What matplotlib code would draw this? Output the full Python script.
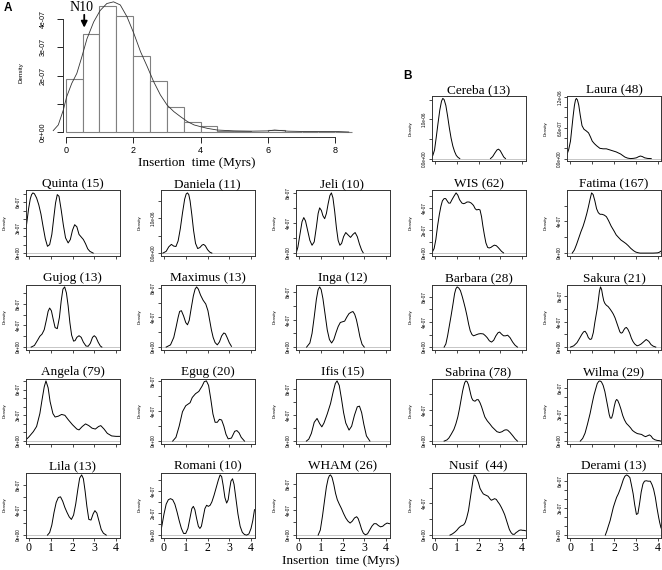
import numpy as np
import matplotlib.pyplot as plt

plt.rcParams['font.family'] = 'Liberation Sans'
SERIF = 'Liberation Serif'

# ---------------- panel A histogram (values in units of 1e-07) ----------------
bin_left = [0, 0.5, 1.0, 1.5, 2.0, 2.5, 3.0, 3.5, 4.0, 4.5, 5.0, 5.5, 6.0, 6.5, 7.0, 7.5, 8.0]
bin_height = [1.87, 3.46, 4.46, 4.10, 2.70, 1.81, 0.88, 0.35, 0.21, 0.06, 0.035, 0.02,
              0.09, 0.02, 0.01, 0.02, 0.02]
hist_kde_x = [-0.37, -0.22, -0.07, 0.03, 0.18, 0.33, 0.48, 0.63, 0.83, 1.02, 1.22, 1.42,
              1.62, 1.82, 2.02, 2.22, 2.42, 2.61, 2.81, 3.01, 3.21, 3.41, 3.61, 3.81, 4.0,
              4.2, 4.5, 5.0, 5.5, 6.0, 6.2, 6.6, 7.0, 7.5, 8.0, 8.4]
hist_kde_y = [0.06, 0.26, 0.79, 1.26, 1.73, 2.08, 2.67, 3.3, 3.9, 4.3, 4.55, 4.61,
              4.5, 4.08, 3.5, 2.85, 2.32, 1.79, 1.32, 0.96, 0.73, 0.55, 0.38, 0.26, 0.2,
              0.14, 0.08, 0.05, 0.04, 0.05, 0.08, 0.04, 0.03, 0.03, 0.03, 0.01]
hist_yticks = ['0e+00', '', '2e-07', '3e-07', '4e-07']
hist_xticks = [0, 2, 4, 6, 8]
n10_time = 0.55

# ---------------- family density curves (x in Myrs, y in 1e-07) ----------------
quinta_x = [-0.16, -0.1, -0.02, 0.06, 0.12, 0.18, 0.25, 0.35, 0.45, 0.55, 0.65, 0.75, 0.85,
            0.95, 1.05, 1.15, 1.22, 1.3, 1.38, 1.48, 1.58, 1.68, 1.8, 1.9, 2.0, 2.1, 2.2,
            2.3, 2.4, 2.5, 2.6, 2.7, 2.8, 2.95]
quinta_y = [2.4, 3.6, 5.2, 6.4, 6.9, 7.1, 7.0, 6.5, 5.7, 4.6, 3.1, 1.7, 0.8, 1.0, 2.2, 4.4,
            5.9, 6.9, 6.7, 5.1, 3.3, 1.8, 1.2, 1.6, 2.7, 3.35, 3.1, 2.2, 1.9, 1.6, 1.1, 0.5,
            0.2, 0.0]

daniela_x = [-0.05, 0.1, 0.22, 0.34, 0.45, 0.55, 0.65, 0.75, 0.85, 0.95, 1.02, 1.08, 1.14,
             1.2, 1.28, 1.36, 1.45, 1.55, 1.65, 1.75, 1.82, 1.9, 2.0, 2.1, 2.2]
daniela_y = [0.0, 0.5, 1.8, 2.5, 2.0, 1.9, 3.5, 7.0, 11.5, 15.5, 17.0, 17.3, 16.8, 15.0,
             11.0, 6.5, 2.8, 1.3, 1.6, 2.3, 2.5, 2.1, 1.0, 0.3, 0.0]

jeli_x = [-0.12, -0.05, 0.05, 0.14, 0.22, 0.3, 0.4, 0.5, 0.6, 0.7, 0.8, 0.88, 0.95, 1.03,
          1.1, 1.18, 1.26, 1.34, 1.42, 1.49, 1.56, 1.64, 1.72, 1.8, 1.88, 1.96, 2.05, 2.15,
          2.25, 2.37, 2.48, 2.58, 2.68, 2.78, 2.88, 2.95]
jeli_y = [0.1, 0.8, 2.6, 4.2, 4.75, 4.3, 3.0, 1.7, 1.05, 1.5, 3.5, 5.3, 6.05, 5.7, 5.0, 4.6,
          5.3, 6.6, 7.7, 8.05, 7.4, 5.6, 3.4, 1.7, 1.05, 1.3, 2.2, 2.75, 2.45, 2.1, 2.5, 2.75,
          2.2, 1.2, 0.4, 0.05]

gujog_x = [0.1, 0.25, 0.4, 0.5, 0.6, 0.7, 0.8, 0.88, 0.95, 1.03, 1.12, 1.2, 1.3, 1.4, 1.48,
           1.56, 1.64, 1.72, 1.8, 1.88, 1.96, 2.05, 2.12, 2.2, 2.3, 2.4, 2.5, 2.62, 2.72,
           2.82, 2.92, 3.0, 3.08, 3.18, 3.28, 3.35]
gujog_y = [0.0, 0.3, 1.3, 2.0, 2.4, 3.2, 5.0, 6.6, 7.2, 6.7, 5.0, 3.6, 3.4, 5.5, 8.5, 10.7,
           11.1, 10.0, 7.6, 4.5, 2.2, 1.1, 1.2, 1.8, 2.1, 1.8, 0.9, 0.2, 0.15, 0.7, 1.8, 2.1,
           1.8, 0.9, 0.2, 0.0]

maximus_x = [0.1, 0.3, 0.45, 0.55, 0.65, 0.72, 0.8, 0.9, 1.0, 1.08, 1.16, 1.25, 1.35, 1.43,
             1.5, 1.58, 1.68, 1.8, 1.92, 2.02, 2.1, 2.18, 2.26, 2.35, 2.45, 2.55, 2.65, 2.75,
             2.82, 2.9, 3.0, 3.1]
maximus_y = [0.0, 0.3, 1.3, 2.6, 4.0, 4.8, 4.9, 4.2, 3.3, 3.0, 3.6, 5.2, 6.9, 7.8, 8.1, 7.8,
             7.0, 6.3, 5.8, 4.9, 3.6, 2.3, 1.3, 0.6, 0.3, 0.7, 1.5, 1.9, 1.8, 1.3, 0.6, 0.1]

inga_x = [0.35, 0.5, 0.6, 0.7, 0.8, 0.88, 0.95, 1.02, 1.1, 1.2, 1.3, 1.4, 1.5, 1.6, 1.7,
          1.8, 1.9, 2.0, 2.1, 2.2, 2.3, 2.4, 2.48, 2.56, 2.64, 2.72, 2.8, 2.9, 3.0]
inga_y = [0.0, 0.6, 2.0, 4.4, 7.0, 8.4, 8.8, 8.4, 7.1, 4.8, 2.5, 1.1, 0.6, 1.1, 2.1, 3.0,
          3.6, 3.7, 3.8, 4.4, 4.9, 5.1, 5.2, 4.8, 4.0, 2.8, 1.5, 0.4, 0.0]

angela_x = [-0.16, 0.0, 0.2, 0.35, 0.5, 0.6, 0.7, 0.78, 0.88, 0.97, 1.1, 1.2, 1.35, 1.5,
            1.65, 1.8, 2.0, 2.2, 2.3, 2.45, 2.6, 2.75, 2.9, 3.05, 3.2, 3.3, 3.45, 3.6, 3.8,
            4.0, 4.16]
angela_y = [0.1, 0.5, 1.1, 1.7, 3.2, 4.8, 6.3, 7.0, 6.2, 4.6, 3.2, 2.8, 2.9, 3.1, 3.0, 2.5,
            1.9, 1.4, 1.3, 1.7, 2.0, 1.8, 1.5, 1.4, 1.7, 1.8, 1.4, 0.9, 0.6, 0.55, 0.55]

egug_x = [0.4, 0.55, 0.7, 0.85, 1.0, 1.1, 1.2, 1.3, 1.45, 1.6, 1.75, 1.85, 1.95, 2.05, 2.15,
          2.25, 2.35, 2.45, 2.55, 2.65, 2.75, 2.85, 2.95, 3.1, 3.25, 3.35, 3.45, 3.55, 3.7]
egug_y = [0.0, 0.5, 2.0, 3.9, 4.7, 4.9, 5.1, 5.8, 6.3, 6.6, 7.3, 7.9, 8.0, 7.4, 5.6, 3.6,
          2.5, 2.5, 2.9, 2.8, 2.0, 0.9, 0.3, 0.4, 1.3, 1.4, 1.1, 0.5, 0.0]

ifis_x = [0.34, 0.45, 0.57, 0.7, 0.83, 0.95, 1.05, 1.15, 1.3, 1.45, 1.57, 1.67, 1.75, 1.85,
          1.95, 2.05, 2.15, 2.3, 2.42, 2.55, 2.68, 2.78, 2.88, 2.98, 3.1, 3.26]
ifis_y = [0.0, 0.3, 1.2, 2.9, 3.5, 2.7, 2.2, 2.8, 4.2, 5.8, 7.6, 8.9, 9.3, 8.6, 6.6, 4.4,
          2.8, 1.7, 2.3, 4.0, 5.3, 5.4, 4.4, 2.6, 0.8, 0.0]

lila_x = [0.85, 0.95, 1.05, 1.15, 1.25, 1.35, 1.45, 1.55, 1.65, 1.75, 1.85, 1.95, 2.05,
          2.15, 2.25, 2.33, 2.42, 2.5, 2.58, 2.66, 2.75, 2.85, 2.95, 3.03, 3.12, 3.22, 3.32,
          3.42, 3.55]
lila_y = [0.0, 0.4, 1.6, 3.6, 5.2, 6.0, 6.1, 5.4, 4.4, 3.6, 2.9, 2.5, 3.2, 5.0, 7.4, 9.1,
          9.6, 9.0, 7.0, 4.6, 2.5, 2.4, 3.4, 3.9, 3.5, 2.2, 0.9, 0.3, 0.0]

romani_x = [-0.16, -0.1, 0.0, 0.1, 0.2, 0.3, 0.4, 0.5, 0.6, 0.7, 0.8, 0.9, 1.0, 1.1, 1.2,
            1.28, 1.35, 1.42, 1.5, 1.58, 1.65, 1.72, 1.8, 1.88, 1.96, 2.04, 2.12, 2.2, 2.3,
            2.4, 2.5, 2.58, 2.65, 2.72, 2.8, 2.88, 2.95, 3.02, 3.08, 3.15, 3.22, 3.3, 3.4,
            3.5, 3.6, 3.7, 3.8, 3.9, 4.0, 4.08, 4.16]
romani_y = [0.2, 0.8, 1.9, 2.8, 3.2, 3.3, 3.2, 2.8, 2.1, 1.3, 0.6, 0.15, 0.15, 0.6, 1.6,
            2.4, 2.6, 2.3, 1.5, 0.8, 0.6, 0.8, 1.6, 2.4, 2.7, 2.6, 2.7, 3.0, 3.6, 4.3, 5.0,
            5.45, 5.3, 4.5, 3.4, 2.9, 3.2, 4.2, 4.9, 5.1, 4.6, 3.4, 1.9, 0.8, 0.25, 0.05,
            0.0, 0.1, 0.6, 1.3, 2.3]

wham_x = [0.88, 0.98, 1.08, 1.18, 1.26, 1.34, 1.4, 1.45, 1.52, 1.6, 1.68, 1.76, 1.85, 1.95,
          2.05, 2.15, 2.25, 2.35, 2.45, 2.55, 2.65, 2.72, 2.8, 2.88, 2.96, 3.05, 3.15, 3.25,
          3.35, 3.45, 3.55, 3.65, 3.75, 3.85, 3.95, 4.05, 4.16]
wham_y = [0.0, 0.8, 3.0, 5.6, 7.6, 8.9, 9.4, 9.5, 9.1, 8.0, 6.6, 5.6, 4.9, 4.2, 3.4, 2.7,
          2.2, 1.9, 2.2, 2.7, 2.9, 2.6, 1.8, 0.9, 0.3, 0.05, 0.2, 0.8, 1.4, 1.8, 1.8, 1.5,
          1.3, 1.4, 1.7, 1.9, 1.8]

cereba_x = [-0.16, -0.1, -0.02, 0.06, 0.14, 0.22, 0.3, 0.36, 0.42, 0.5, 0.58, 0.66, 0.74,
            0.82, 0.9, 0.98, 1.06, 1.14, np.nan, 2.55, 2.65, 2.75, 2.85, 2.92, 3.0, 3.08,
            3.16, 3.24]
cereba_y = [0.3, 0.8, 2.2, 5.5, 9.0, 12.3, 14.6, 15.3, 15.0, 13.5, 10.8, 7.8, 5.2, 3.2, 1.8,
            0.8, 0.3, 0.0, np.nan, 0.0, 0.5, 1.4, 2.2, 2.4, 2.0, 1.2, 0.4, 0.0]

laura_x = [-0.16, -0.08, 0.0, 0.06, 0.12, 0.18, 0.23, 0.27, 0.32, 0.38, 0.45, 0.53, 0.62,
           0.72, 0.83, 0.92, 1.0, 1.1, 1.2, 1.35, 1.5, 1.65, 1.8, 1.95, 2.1, 2.2, 2.3, 2.4,
           2.5, 2.62, 2.76, 2.9, 3.03, 3.12, 3.21, 3.3, 3.41, 3.55, 3.71]
laura_y = [0.8, 1.8, 3.4, 5.8, 8.2, 10.3, 11.4, 11.7, 11.4, 10.4, 8.4, 6.4, 5.7, 5.4, 5.0,
           4.2, 3.4, 2.9, 2.5, 2.0, 1.9, 1.9, 1.7, 1.5, 1.3, 1.1, 0.9, 0.6, 0.3, 0.1, 0.0,
           0.05, 0.15, 0.35, 0.5, 0.4, 0.15, 0.03, 0.0]

wis_x = [-0.12, -0.04, 0.04, 0.12, 0.2, 0.27, 0.34, 0.42, 0.49, 0.56, 0.63, 0.7, 0.78, 0.87,
         0.97, 1.05, 1.13, 1.24, 1.32, 1.39, 1.47, 1.57, 1.67, 1.77, 1.85, 1.92, 2.0, 2.07,
         2.14, 2.2, 2.27, 2.34, 2.42, 2.49, 2.57, 2.64, 2.73, 2.82, 2.9, 2.97, 3.06, 3.15]
wis_y = [0.1, 0.4, 1.2, 2.4, 3.4, 4.1, 4.6, 4.8, 4.8, 4.6, 4.4, 4.4, 4.7, 5.0, 5.3, 5.1,
         4.7, 4.4, 4.35, 4.4, 4.5, 4.5, 4.4, 4.2, 3.9, 3.8, 3.85, 3.8, 3.2, 2.4, 1.6, 0.9,
         0.5, 0.45, 0.5, 0.6, 0.7, 0.65, 0.5, 0.35, 0.15, 0.02]

fatima_x = [0.08, 0.18, 0.28, 0.38, 0.48, 0.58, 0.67, 0.75, 0.82, 0.9, 0.97, 1.04, 1.12, 1.2,
            1.28, 1.36, 1.45, 1.55, 1.65, 1.75, 1.87, 2.0, 2.1, 2.2, 2.32, 2.45, 2.55, 2.65,
            2.77, 2.9, 3.0, 3.1, 3.2, 3.5, 3.8, 4.0, 4.08, 4.16]
fatima_y = [0.0, 0.4, 1.1, 1.9, 2.7, 3.4, 4.2, 5.0, 5.8, 6.8, 7.6, 7.4, 6.6, 5.6, 5.1, 4.9,
            4.9, 4.8, 4.6, 4.1, 3.4, 2.8, 2.3, 2.0, 1.65, 1.4, 1.2, 0.95, 0.6, 0.3, 0.13,
            0.05, 0.0, 0.0, 0.0, 0.03, 0.1, 0.25]

barbara_x = [0.42, 0.5, 0.58, 0.66, 0.74, 0.82, 0.9, 0.96, 1.02, 1.1, 1.17, 1.25, 1.32, 1.4,
             1.47, 1.55, 1.62, 1.7, 1.77, 1.85, 1.92, 2.0, 2.1, 2.22, 2.32, 2.4, 2.5, 2.6,
             2.7, 2.8, 2.9, 2.97, 3.05, 3.15, 3.25, 3.34, 3.45, 3.57, 3.68, 3.79]
barbara_y = [0.0, 0.5, 1.8, 3.4, 5.0, 6.7, 8.5, 9.3, 9.6, 9.4, 9.0, 8.1, 7.2, 6.1, 5.0, 3.6,
             2.6, 2.0, 1.8, 1.9, 2.0, 2.1, 2.15, 2.1, 1.8, 1.5, 1.0, 0.8, 1.1, 1.8, 2.3, 2.4,
             2.1, 1.8, 1.8, 1.9, 1.5, 0.8, 0.3, 0.0]

sakura_x = [0.0, 0.15, 0.3, 0.42, 0.52, 0.6, 0.67, 0.75, 0.82, 0.9, 0.97, 1.05, 1.12, 1.18,
            1.23, 1.28, 1.33, 1.38, 1.43, 1.48, 1.53, 1.58, 1.65, 1.73, 1.82, 1.9, 1.97,
            2.05, 2.12, 2.2, 2.27, 2.33, 2.39, 2.45, 2.51, 2.57, 2.64, 2.72, 2.8, 2.87, 2.95,
            3.06, 3.15, 3.25, 3.35, 3.48, 3.6, 3.7, 3.8, 3.92]
sakura_y = [0.0, 0.2, 0.7, 1.4, 2.0, 2.4, 2.5, 2.1, 1.5, 1.2, 1.3, 2.3, 3.9, 5.1, 6.1, 7.4,
            8.8, 9.5, 9.1, 8.1, 7.3, 6.9, 6.6, 6.4, 6.0, 5.6, 5.2, 4.6, 3.9, 3.1, 2.4, 2.2,
            2.3, 2.7, 3.0, 3.1, 2.8, 2.2, 1.4, 0.9, 0.5, 0.2, 0.3, 0.5, 0.8, 1.2, 0.9, 0.4,
            0.15, 0.0]

sabrina_x = [0.42, 0.55, 0.64, 0.75, 0.87, 0.96, 1.05, 1.13, 1.2, 1.27, 1.32, 1.37, 1.42,
             1.48, 1.54, 1.6, 1.65, 1.69, 1.75, 1.84, 1.92, 1.99, 2.07, 2.14, 2.22, 2.29,
             2.4, 2.52, 2.63, 2.74, 2.85, 2.97, 3.08, 3.19, 3.27, 3.34, 3.45, 3.57, 3.68, 3.79]
sabrina_y = [0.0, 0.15, 0.4, 0.9, 1.5, 2.2, 3.1, 4.2, 5.3, 6.4, 7.0, 7.5, 7.7, 7.6, 7.2,
             6.5, 5.9, 5.5, 5.2, 5.1, 5.3, 5.3, 4.9, 4.4, 3.7, 3.1, 2.6, 2.2, 1.8, 1.5, 1.2,
             1.1, 1.2, 1.4, 1.45, 1.4, 1.1, 0.7, 0.3, 0.0]

wilma_x = [0.45, 0.56, 0.67, 0.78, 0.9, 1.0, 1.08, 1.16, 1.23, 1.3, 1.35, 1.42, 1.5, 1.58,
           1.65, 1.72, 1.78, 1.83, 1.89, 1.95, 2.01, 2.07, 2.12, 2.17, 2.24, 2.32, 2.4, 2.48,
           2.57, 2.67, 2.76, 2.85, 2.96, 3.07, 3.17, 3.27, 3.36, 3.45, 3.54, 3.63, 3.71,
           3.78, 3.88, 3.98, 4.08, 4.16]
wilma_y = [0.0, 0.3, 0.9, 1.9, 3.1, 4.3, 5.2, 5.9, 6.5, 6.75, 6.8, 6.7, 6.3, 5.6, 4.7, 3.8,
           3.0, 2.6, 2.6, 3.1, 3.9, 4.5, 4.7, 4.6, 4.2, 3.6, 2.9, 2.4, 2.0, 1.75, 1.5, 1.2,
           1.0, 0.85, 0.8, 0.75, 0.6, 0.5, 0.6, 0.7, 0.55, 0.3, 0.15, 0.08, 0.05, 0.0]

nusif_x = [0.69, 0.8, 0.9, 1.0, 1.09, 1.17, 1.24, 1.32, 1.39, 1.46, 1.54, 1.62, 1.69, 1.75,
           1.8, 1.86, 1.92, 2.0, 2.07, 2.15, 2.22, 2.29, 2.37, 2.44, 2.52, 2.59, 2.67, 2.74,
           2.82, 2.89, 2.97, 3.05, 3.12, 3.2, 3.27, 3.35, 3.42, 3.5, 3.57, 3.65, 3.72, 3.8,
           3.87, 3.95, 4.02, 4.09, 4.16]
nusif_y = [0.0, 0.15, 0.35, 0.6, 0.9, 1.1, 1.2, 1.3, 1.6, 2.2, 3.1, 4.6, 5.9, 7.0, 7.6, 7.5,
           7.2, 6.6, 5.9, 5.5, 5.2, 5.1, 5.0, 4.9, 4.6, 4.4, 4.5, 4.6, 4.5, 4.2, 3.9, 3.5,
           3.1, 2.6, 2.0, 1.3, 0.7, 0.3, 0.1, 0.1, 0.3, 0.45, 0.6, 0.65, 0.6, 0.6, 0.55]

derami_x = [1.6, 1.67, 1.74, 1.82, 1.9, 1.97, 2.05, 2.12, 2.2, 2.28, 2.35, 2.43, 2.5, 2.58,
            2.65, 2.73, 2.8, 2.88, 2.95, 3.03, 3.1, 3.18, 3.25, 3.33, 3.4, 3.48, 3.57, 3.67,
            3.75, 3.82, 3.9, 3.97, 4.05, 4.1, 4.16]
derami_y = [0.0, 0.45, 1.0, 1.6, 2.4, 3.1, 3.7, 4.2, 4.6, 5.1, 5.6, 6.2, 6.55, 6.7, 6.6, 6.4,
            5.6, 4.6, 3.4, 2.3, 2.4, 3.6, 4.8, 5.7, 6.0, 6.05, 6.0, 6.0, 5.6, 5.1, 4.2, 3.1,
            2.0, 1.4, 0.8]

titles = ['Quinta (15)', 'Daniela (11)', 'Jeli (10)',
          'Gujog (13)', 'Maximus (13)', 'Inga (12)',
          'Angela (79)', 'Egug (20)', 'Ifis (15)',
          'Lila (13)', 'Romani (10)', 'WHAM (26)',
          'Cereba (13)', 'Laura (48)', 'WIS (62)', 'Fatima (167)',
          'Barbara (28)', 'Sakura (21)', 'Sabrina (78)', 'Wilma (29)',
          'Nusif  (44)', 'Derami (13)']
curves = [(quinta_x, quinta_y), (daniela_x, daniela_y), (jeli_x, jeli_y),
          (gujog_x, gujog_y), (maximus_x, maximus_y), (inga_x, inga_y),
          (angela_x, angela_y), (egug_x, egug_y), (ifis_x, ifis_y),
          (lila_x, lila_y), (romani_x, romani_y), (wham_x, wham_y),
          (cereba_x, cereba_y), (laura_x, laura_y), (wis_x, wis_y), (fatima_x, fatima_y),
          (barbara_x, barbara_y), (sakura_x, sakura_y), (sabrina_x, sabrina_y),
          (wilma_x, wilma_y), (nusif_x, nusif_y), (derami_x, derami_y)]

# y tick spacing (1e-07) and the labels R kept
ytick_step = [1, 5, 2, 2, 2, 2, 1, 2, 2, 2, 1, 2, 5, 2, 1, 2, 2, 2, 2, 1, 2, 1]
L3 = ['0e+00', '', '', '3e-07', '', '', '6e-07']
L4 = ['0e+00', '', '4e-07', '', '8e-07']
ytick_labels = [L3 + [''], ['0.0e+00', '', '1.0e-06', ''], L4,
                L4 + [''], L4, L4,
                L3 + [''], L4, L4,
                L4, ['0e+00', '', '2e-07', '', '4e-07', ''], L4,
                ['0.0e+00', '', '1.0e-06', ''],
                ['0.0e+00', '', '', '6.0e-07', '', '', '1.2e-06'],
                ['0e+00', '', '2e-07', '', '4e-07', ''], ['0e+00', '', '4e-07', ''],
                L4, L4, ['0e+00', '', '4e-07', ''], L3,
                ['0e+00', '', '4e-07', ''], L3]
xtick_vals = [0, 1, 2, 3, 4]

# ---------------- layout (pixels) ----------------
W, H = 662, 570
fig = plt.figure(figsize=(W / 100, H / 100), dpi=100)


def px_box(left, top, width, height):
    return [left / W, 1 - (top + height) / H, width / W, height / H]


col_left = [25.5, 160.5, 295.5, 431.5, 567]
row_top = [96, 190.5, 284.5, 378.5, 472.5]
PW, PH = 94, 65
grid = [(0, 1), (1, 1), (2, 1), (0, 2), (1, 2), (2, 2), (0, 3), (1, 3), (2, 3),
        (0, 4), (1, 4), (2, 4),
        (3, 0), (4, 0), (3, 1), (4, 1), (3, 2), (4, 2), (3, 3), (4, 3), (3, 4), (4, 4)]

for (cx, cy), title, step, labs, (col, row) in zip(curves, titles, ytick_step,
                                                   ytick_labels, grid):
    ax = fig.add_axes(px_box(col_left[col], row_top[row], PW, PH))
    xs = np.array(cx, float)
    ys = np.array(cy, float) * 1e-7
    top = np.nanmax(ys)
    ax.set_xlim(-0.16, 4.16)
    ax.set_ylim(-0.04 * top, 1.04 * top)
    ax.axhline(0, color='#bdbdbd', lw=0.6, zorder=1)
    ax.plot(xs, ys, color='black', lw=0.7, zorder=2)
    ax.set_title(title, family=SERIF, fontsize=9.5, pad=1.0)

    ax.set_xticks(xtick_vals)
    if row == 4:
        ax.set_xticklabels([str(v) for v in xtick_vals], family=SERIF, fontsize=8.5)
    else:
        ax.set_xticklabels([])
    ax.set_yticks([k * step * 1e-7 for k in range(len(labs))])
    ax.set_yticklabels(labs, fontsize=3.3, rotation=90, va='center')
    ax.tick_params(axis='both', length=2.2, width=0.5, pad=1.2)
    ax.set_ylabel('Density', fontsize=3.2)
    ax.yaxis.set_label_coords(-19 / PW, 0.5)
    for s in ax.spines.values():
        s.set_linewidth(0.7)
        s.set_color('#333333')

# ---------------- histogram panel ----------------
hx0, hy0 = 65.7, 132.3      # pixel of (0, 0)
sx, sy = 33.7, 28.3         # pixels per Myr, per 1e-07
h_left, h_right, h_bottom = 50, 354, 137
axh = fig.add_axes(px_box(h_left, 0, h_right - h_left, h_bottom))
axh.set_xlim((h_left - hx0) / sx, (h_right - hx0) / sx)
axh.set_ylim(-(h_bottom - hy0) / sy * 1e-7, hy0 / sy * 1e-7)
axh.bar(bin_left, np.array(bin_height) * 1e-7, width=0.5, align='edge',
        facecolor='white', edgecolor='#808080', linewidth=0.8)
axh.plot(hist_kde_x, np.array(hist_kde_y) * 1e-7, color='#333333', lw=0.6)
for side in ['top', 'right']:
    axh.spines[side].set_visible(False)
axh.spines['left'].set_position(('data', (63 - hx0) / sx))
axh.spines['left'].set_bounds(0, 4e-7)
axh.spines['bottom'].set_bounds(0, 8)
for side in ['left', 'bottom']:
    axh.spines[side].set_linewidth(0.7)
    axh.spines[side].set_color('#333333')
axh.set_yticks([k * 1e-7 for k in range(len(hist_yticks))])
axh.set_yticklabels(hist_yticks, fontsize=5, rotation=90, va='center')
axh.set_xticks(hist_xticks)
axh.set_xticklabels([str(v) for v in hist_xticks], fontsize=6.5)
axh.tick_params(axis='y', length=4.3, width=0.6, pad=7.5)
axh.tick_params(axis='x', length=4.3, width=0.6, pad=2)
axh.set_ylabel('Density', fontsize=4.5)
axh.yaxis.set_label_coords((23 - h_left) / (h_right - h_left), 0.47)
axh.annotate('', xy=(n10_time, 3.6e-7), xytext=(n10_time, 4.25e-7),
             arrowprops=dict(arrowstyle='-|>', mutation_scale=9, lw=1.3, color='black'))
axh.text(n10_time - 0.07, 4.42e-7, 'N10', family=SERIF, fontsize=10,
         ha='center', va='center')

fig.text(197 / W, 1 - 163 / H, 'Insertion  time (Myrs)', family=SERIF, fontsize=9.5,
         ha='center', va='center')
fig.text(341 / W, 1 - 561 / H, 'Insertion  time (Myrs)', family=SERIF, fontsize=9.5,
         ha='center', va='center')
fig.text(8 / W, 1 - 8 / H, 'A', fontsize=8.5, fontweight='bold', ha='center', va='center')
fig.text(407 / W, 1 - 76 / H, 'B', fontsize=8.5, fontweight='bold', ha='center',
         va='center')

fig.savefig('out.png', dpi=100)
